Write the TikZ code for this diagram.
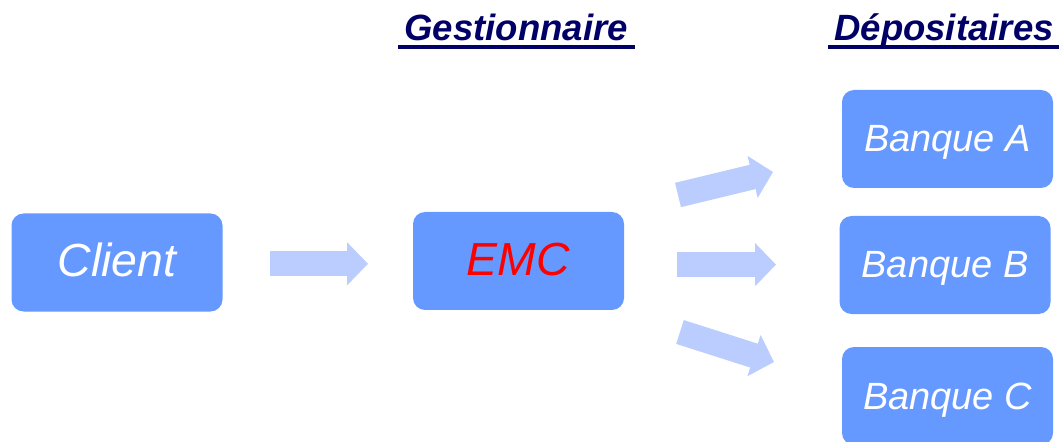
\documentclass[tikz,border=0pt]{standalone}
\usepackage{fontspec}
\setmainfont{Liberation Sans}
\usetikzlibrary{arrows.meta}
\definecolor{boxblue}{RGB}{102,153,255}
\definecolor{flowblue}{RGB}{187,204,255}
\definecolor{headnavy}{RGB}{0,0,102}

\begin{document}
\begin{tikzpicture}
    [
    box/.style={rectangle,rounded corners=0.3cm,fill=boxblue,text=white,inner sep=0pt,minimum width=5.275cm,minimum height=2.45cm,text depth=0pt},
    big/.style={font=\fontsize{33}{36}\selectfont\itshape,text height=0.72cm},
    bank/.style={font=\fontsize{27}{30}\selectfont\itshape,text height=0.65cm},
    head/.style={anchor=base west,inner sep=0pt,text=headnavy,font=\fontsize{26}{29}\selectfont\bfseries\itshape},
    headline/.style={headnavy,line width=0.1cm},
    flow/.style={flowblue,line width=0.625cm,-{Triangle[width=1.05cm,length=0.525cm]}}
    ]
    \useasboundingbox (0,0) rectangle (26.475,11.025);
    % column titles
    \node (gest) at (10.1,10.02) [head] {Gestionnaire};
    \node (depo) at (20.85,10.02) [head] {Dépositaires};
    \draw [headline] ([xshift=-0.15cm,yshift=-0.18cm]gest.base west) -- ++(5.925,0);
    \draw [headline] ([xshift=-0.15cm,yshift=-0.18cm]depo.base west) -- ++(6,0);
    % boxes
    \node (client) at (2.925,4.4625) [box,big] {Client};
    \node (emc) at (12.9625,4.5) [box,big,text=red] {EMC};
    \node (banka) at (23.6875,7.55) [box,bank] {Banque A};
    \node (bankb) at (23.625,4.4) [box,bank] {Banque B};
    \node (bankc) at (23.6875,1.125) [box,bank] {Banque C};
    % flows
    \coordinate (t1) at (6.75,4.43);
    \coordinate (h1) at (9.2,4.43);
    \coordinate (t2) at (16.95,6.15);
    \coordinate (h2) at (19.325,6.725);
    \coordinate (t3) at (16.925,4.41);
    \coordinate (h3) at (19.4,4.41);
    \coordinate (t4) at (17.0,2.725);
    \coordinate (h4) at (19.35,1.975);
    \draw [flow] (t1) -- (h1);
    \draw [flow] (t2) -- (h2);
    \draw [flow] (t3) -- (h3);
    \draw [flow] (t4) -- (h4);
  \end{tikzpicture}
\end{document}
